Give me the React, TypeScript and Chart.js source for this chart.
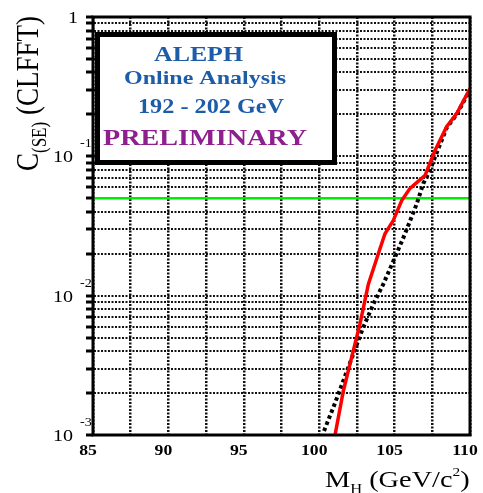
import React, { useEffect, useRef } from 'react';
import { Chart, registerables } from 'chart.js';

Chart.register(...registerables);

// ---- data ----
const massObserved = [101.05, 101.6, 102.04, 102.37, 102.7, 103.26, 103.92, 104.36, 104.91, 105.47, 106.02, 107.02, 107.68, 108.45, 109.12, 110];
const clObserved = [0.001, 0.00207, 0.00323, 0.00449, 0.00625, 0.0121, 0.02, 0.0278, 0.0346, 0.0482, 0.0589, 0.073, 0.11, 0.163, 0.203, 0.307];
const massExpected = [100.32, 100.93, 101.6, 102.26, 102.92, 103.59, 104.25, 105.03, 105.69, 106.47, 106.9, 107.35, 107.68, 108.45, 109.12, 110];
const clExpected = [0.00107, 0.00157, 0.00245, 0.00381, 0.00592, 0.0087, 0.0121, 0.0189, 0.0278, 0.0457, 0.0637, 0.0794, 0.099, 0.16, 0.2, 0.3];
const greenMass = [85, 110];
const greenLevel = 0.05;

const xGridValues = [85, 87.5, 90, 92.5, 95, 97.5, 100, 102.5, 105, 107.5, 110];
const xTickValues = [85, 90, 95, 100, 105, 110];
const xTickLabels = ['85', '90', '95', '100', '105', '110'];
const yDecades = [0.001, 0.01, 0.1];
const yMultipliers = [1, 2, 3, 4, 5, 6, 7, 8, 9];
const yLabelValues = [1, 0.1, 0.01, 0.001];
const yLabelBase = ['1', '10', '10', '10'];
const yLabelExp = ['', '-1', '-2', '-3'];

const boxLines = ['ALEPH', 'Online Analysis', '192 - 202 GeV', 'PRELIMINARY'];

const SERIF = '"Liberation Serif", "Times New Roman", serif';
const SX = 1.18;

function txt(ctx: CanvasRenderingContext2D, s: string, x: number, y: number, font: string, color: string, align: 'left' | 'center' | 'right' = 'left', sx: number = SX): number {
  ctx.save();
  ctx.font = font;
  ctx.fillStyle = color;
  ctx.textBaseline = 'alphabetic';
  ctx.textAlign = 'left';
  const w = ctx.measureText(s).width * sx;
  const x0 = align === 'center' ? x - w / 2 : align === 'right' ? x - w : x;
  ctx.translate(x0, y);
  ctx.scale(sx, 1);
  ctx.fillText(s, 0, 0);
  ctx.restore();
  return w;
}

function fitTxt(ctx: CanvasRenderingContext2D, s: string, cx: number, y: number, font: string, color: string, targetW: number) {
  ctx.save();
  ctx.font = font;
  const w = ctx.measureText(s).width;
  ctx.restore();
  txt(ctx, s, cx, y, font, color, 'center', targetW / w);
}

const decor = {
  id: 'decor',
  afterDraw(chart: any) {
    const ctx: CanvasRenderingContext2D = chart.ctx;
    const { left, right, top, bottom } = chart.chartArea;
    const xs = chart.scales.x;
    const ys = chart.scales.y;

    // frame
    ctx.save();
    ctx.strokeStyle = '#000';
    ctx.lineWidth = 3;
    ctx.strokeRect(left, top, right - left, bottom - top);
    ctx.restore();

    // legend box
    ctx.save();
    ctx.fillStyle = '#fff';
    ctx.fillRect(96, 33, 240, 131);
    ctx.strokeStyle = '#000';
    ctx.lineWidth = 5;
    ctx.strokeRect(97.5, 34.5, 237, 128);
    ctx.restore();
    fitTxt(ctx, boxLines[0], 198.5, 61, `bold 22px ${SERIF}`, '#1d5ca8', 89);
    fitTxt(ctx, boxLines[1], 205, 84, `bold 19px ${SERIF}`, '#1d5ca8', 162);
    fitTxt(ctx, boxLines[2], 211, 113, `bold 20px ${SERIF}`, '#1d5ca8', 146);
    fitTxt(ctx, boxLines[3], 205, 145, `bold 23px ${SERIF}`, '#8e1f8e', 204);

    // x tick labels
    xTickValues.forEach((v, i) => {
      const px = xs.getPixelForValue(v);
      txt(ctx, xTickLabels[i], px - 5, 455, `bold 15px ${SERIF}`, '#000', 'center');
    });

    // y tick labels
    yLabelValues.forEach((v, i) => {
      const py = ys.getPixelForValue(v);
      if (yLabelExp[i]) {
        txt(ctx, yLabelBase[i], 73, py + 6, `17px ${SERIF}`, '#000', 'right');
        txt(ctx, yLabelExp[i], 80, py - 9, `12px ${SERIF}`, '#000', 'left');
      } else {
        txt(ctx, yLabelBase[i], 78, py + 6, `17px ${SERIF}`, '#000', 'right');
      }
    });

    // x title
    let x = 325;
    x += txt(ctx, 'M', x, 487, `24px ${SERIF}`, '#000');
    x += txt(ctx, 'H', x, 494, `14px ${SERIF}`, '#000');
    x += txt(ctx, ' (GeV/c', x, 487, `24px ${SERIF}`, '#000');
    x += txt(ctx, '2', x, 476, `13px ${SERIF}`, '#000');
    txt(ctx, ')', x, 487, `24px ${SERIF}`, '#000');

    // y title (rotated)
    ctx.save();
    ctx.translate(38, 171);
    ctx.scale(SX, 1);
    ctx.rotate(-Math.PI / 2);
    ctx.fillStyle = '#000';
    ctx.textBaseline = 'alphabetic';
    let t = 0;
    ctx.font = `27px ${SERIF}`;
    ctx.fillText('C', t, 0);
    t += ctx.measureText('C').width;
    ctx.font = `17px ${SERIF}`;
    ctx.fillText('(SE)', t, 7);
    t += ctx.measureText('(SE)').width;
    ctx.font = `27px ${SERIF}`;
    ctx.fillText(' (CLFFT)', t, 0);
    ctx.restore();
  },
};

export default function App() {
  const ref = useRef<HTMLCanvasElement>(null);
  useEffect(() => {
    if (!ref.current) return;
    const yTicks: number[] = [];
    yDecades.forEach((d) => yMultipliers.forEach((m) => yTicks.push(+(m * d).toPrecision(3))));
    yTicks.push(1);
    const chart = new Chart(ref.current, {
      type: 'line',
      data: {
        datasets: [
          {
            label: 'Observed',
            data: massObserved.map((m, i) => ({ x: m, y: clObserved[i] })),
            borderColor: '#ff0000',
            borderWidth: 3.5,
            pointRadius: 0,
            tension: 0,
            fill: false,
            order: 0,
          },
          {
            label: 'Expected',
            data: massExpected.map((m, i) => ({ x: m, y: clExpected[i] })),
            borderColor: '#000000',
            borderWidth: 4,
            borderDash: [3.5, 3],
            pointRadius: 0,
            tension: 0,
            fill: false,
            order: 1,
          },
          {
            label: '95% CL',
            data: greenMass.map((m) => ({ x: m, y: greenLevel })),
            borderColor: '#00ee00',
            borderWidth: 2.5,
            pointRadius: 0,
            fill: false,
            order: 2,
          },
        ],
      },
      options: {
        responsive: false,
        animation: false,
        devicePixelRatio: 1,
        layout: { padding: { left: 0, right: 13, top: 17, bottom: 0 }, autoPadding: false },
        plugins: { legend: { display: false }, tooltip: { enabled: false } },
        scales: {
          x: {
            type: 'linear',
            min: 85,
            max: 110,
            afterBuildTicks: (s: any) => {
              s.ticks = xGridValues.map((v) => ({ value: v }));
            },
            afterFit: (s: any) => {
              s.height = 58;
            },
            ticks: { display: false },
            grid: { color: '#111', lineWidth: 2.5, drawTicks: false },
            border: { dash: [2, 1.5], color: '#000', width: 1 },
          },
          y: {
            type: 'logarithmic',
            min: 0.001,
            max: 1,
            afterBuildTicks: (s: any) => {
              s.ticks = yTicks.map((v) => ({ value: v }));
            },
            afterFit: (s: any) => {
              s.width = 93;
            },
            ticks: { display: false },
            grid: { color: '#111', lineWidth: 2, drawTicks: true, tickLength: 7, tickWidth: 3, tickColor: '#000', tickBorderDash: [] },
            border: { dash: [2, 1.5], color: '#000', width: 1 },
          },
        },
      } as any,
      plugins: [decor],
    });
    return () => chart.destroy();
  }, []);
  return (
    <div style={{ position: 'fixed', left: 0, top: 0, width: 483, height: 493, background: '#fff' }}>
      <canvas ref={ref} width={483} height={493} style={{ display: 'block', width: 483, height: 493 }} />
    </div>
  );
}
